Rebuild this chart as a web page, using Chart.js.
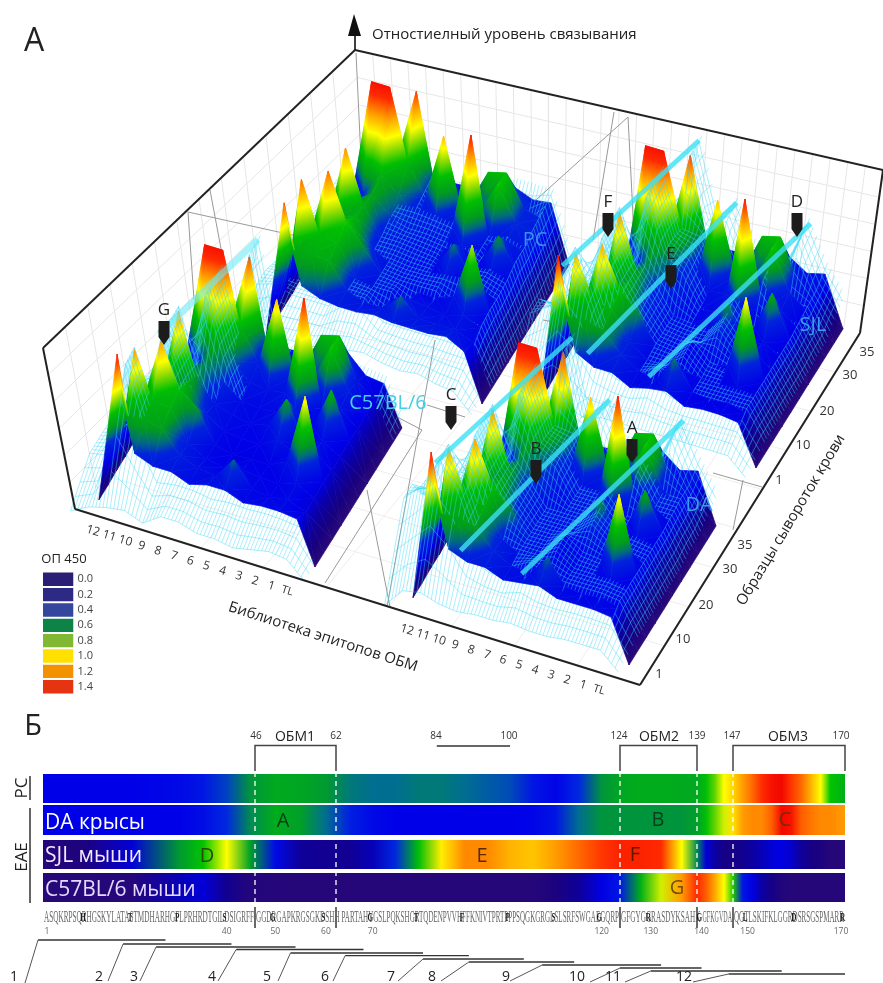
<!DOCTYPE html>
<html><head><meta charset="utf-8">
<style>html,body{margin:0;padding:0;background:#fff}#main{position:absolute;left:0;top:0}#leg{position:absolute;left:43px;top:561px}</style>
<script src="https://cdn.jsdelivr.net/npm/chart.js@4/dist/chart.umd.min.js"></script>
</head><body>
<canvas id="main" width="883" height="983"></canvas>
<canvas id="leg" width="54" height="144"></canvas>
<script>
// ---------- DATA: OD450; rows = serum slices (front to rear), columns = epitope rows 12..1,TL
const rowLabels=['12','11','10','9','8','7','6','5','4','3','2','1','TL'];
const serumLabels=['1','10','20','30','35'];
const surfaceC57=[
[.02,1.3,.5,.44,.44,.38,.42,.42,.36,.38,.38,.36,0],
[.02,.66,.68,.64,.46,.4,.38,.56,.36,.34,.36,.3,0],
[.03,1.1,.72,.7,.44,.36,.33,.36,.34,.33,.38,.3,0],
[.03,.54,1.1,.74,.62,.36,.32,.33,.33,.4,1,.32,0],
[.04,.42,.62,.68,.46,.36,.34,.34,.42,.35,.42,.3,0],
[.04,.38,1.12,.62,.42,.38,.35,.38,.65,.3,.38,.3,0],
[.04,.36,.54,.6,.5,.38,.36,.38,.44,.34,.7,.32,0],
[.04,.36,.46,.68,.56,.42,.4,.42,1.27,.38,.42,.3,0],
[.04,.36,1.33,1.33,.72,.46,1.05,.45,.46,.78,.45,.32,0],
[.03,.36,.5,.6,1.2,.46,.46,.4,.72,.76,.42,.3,0],
[.02,.33,.4,.4,.42,.38,.38,.36,.4,.5,.35,.33,0]];
const surfacePC=[
[.02,1.2,.54,.48,.46,.46,.48,.46,.46,.46,.48,.4,0],
[.02,.68,.7,.68,.48,.42,.42,.56,.42,.42,.42,.36,0],
[.03,1.16,.74,.72,.46,.4,.38,.42,.4,.38,.42,.36,0],
[.03,.56,1.16,.78,.6,.42,.36,.36,.36,.42,.9,.36,0],
[.04,.44,.66,.7,.48,.4,.36,.36,.42,.36,.42,.34,0],
[.04,.4,1.12,.68,.44,.4,.36,.36,.58,.34,.38,.34,0],
[.04,.38,.56,.66,.52,.4,.38,.38,.44,.36,.62,.38,0],
[.04,.38,.48,.7,.58,.44,.42,.44,1.27,.4,.46,.42,0],
[.04,.38,1.33,1.33,.74,.48,1.05,.46,.5,.78,.5,.46,0],
[.03,.38,.5,.62,1.22,.48,.48,.42,.72,.76,.5,.46,0],
[.02,.34,.4,.4,.42,.4,.4,.38,.42,.52,.46,.48,0]];
const surfaceSJL=[
[.02,1.3,.52,.44,.44,.36,.4,.42,.34,.36,.36,.34,0],
[.02,.66,.68,.64,.48,.38,.36,.58,.34,.32,.34,.3,0],
[.03,1.08,.72,.7,.46,.36,.32,.36,.34,.33,.36,.3,0],
[.03,.54,1.08,.74,.6,.36,.32,.33,.33,.38,1,.32,0],
[.04,.42,.64,.68,.46,.36,.34,.34,.42,.35,.42,.3,0],
[.04,.38,1.12,.64,.42,.38,.35,.38,.62,.3,.38,.3,0],
[.04,.36,.54,.6,.52,.38,.36,.38,.46,.34,.68,.32,0],
[.04,.36,.46,.68,.56,.42,.4,.42,1.27,.38,.42,.3,0],
[.04,.36,1.33,1.33,.72,.46,1.05,.45,.46,.78,.45,.34,0],
[.03,.36,.5,.6,1.22,.46,.46,.4,.72,.76,.42,.38,0],
[.02,.33,.4,.4,.42,.38,.38,.36,.42,.48,.38,.42,0]];
const surfaceDA=[
[.02,1.3,.52,.46,.46,.4,.42,.44,.38,.38,.38,.36,0],
[.02,.66,.68,.64,.48,.4,.38,.56,.36,.34,.36,.32,0],
[.03,1.1,.72,.7,.46,.38,.34,.36,.34,.34,.36,.32,0],
[.03,.54,1.1,.74,.6,.38,.34,.34,.34,.38,1,.34,0],
[.04,.42,.64,.68,.46,.38,.34,.34,.42,.36,.42,.32,0],
[.04,.4,1.12,.64,.42,.38,.36,.38,.62,.32,.38,.32,0],
[.04,.36,.54,.6,.52,.38,.38,.38,.46,.34,.68,.34,0],
[.04,.36,.46,.68,.56,.42,.4,.42,1.27,.38,.42,.32,0],
[.04,.36,1.33,1.33,.72,.46,1.05,.45,.46,.78,.45,.36,0],
[.03,.36,.5,.6,1.22,.46,.46,.4,.72,.76,.42,.38,0],
[.02,.33,.4,.4,.42,.38,.38,.36,.42,.5,.38,.42,0]];
const meshC57=[
[.02,.1,.14,.16,.1,.2,.2,.15,.15,.12,.15,.18,.16,.02],
[.25,.28,1.1,.62,.3,.3,.3,.28,.3,.3,.3,.28,.26,.02],
[.25,.3,1.12,.7,.3,.3,.3,.28,.28,.28,.28,.28,.26,.02],
[.25,.3,.3,1.14,.75,.3,.3,.28,.28,.28,.28,.28,.26,.02],
[.2,.25,.3,1.15,.75,.3,.3,.28,.28,.28,.28,.28,.26,.02],
[.2,.25,.3,1.16,.72,.35,.3,.28,.28,.28,.28,.28,.26,.02],
[.15,.2,.25,.3,1.18,.7,.3,.28,.28,.28,.28,.28,.26,.02],
[.15,.2,.25,.3,1.19,.7,.3,.28,.28,.28,.28,.28,.26,.02],
[.12,.2,.2,.3,1.2,.7,.3,.3,.28,.28,.28,.28,.26,.02],
[.1,.15,.2,.25,.3,1.22,.6,.3,.3,.28,.28,.28,.26,.02],
[.1,.12,.15,.2,.25,1.23,.45,.36,.35,.36,.4,.38,.36,.05]];
const meshPC=[
[.05,.16,.2,.22,.22,.24,.28,.3,.26,.24,.26,.22,.2,.05],
[.3,.35,.3,.3,.3,.46,.46,.3,.3,.3,.3,.3,.3,.03],
[.3,.3,.3,.3,.3,.46,.44,.44,.3,.3,.3,.42,.38,.03],
[.25,.3,.3,.3,.3,.3,.44,.42,.42,.42,.3,.42,.4,.03],
[.2,.25,.3,.3,.3,.44,.44,.42,.42,.44,.46,.46,.4,.03],
[.2,.25,.3,.3,.3,.46,.46,.44,.42,.3,.44,.46,.42,.03],
[.15,.2,.25,.3,.3,.5,.46,.46,.44,.44,.46,.3,.46,.03],
[.15,.2,.25,.3,.3,.5,.52,.5,.48,.3,.46,.5,.46,.03],
[.12,.2,.2,.3,.3,.5,.55,.3,.52,.3,.3,.3,.5,.05],
[.1,.15,.2,.25,.3,.3,.58,.3,.48,.3,.3,.3,.52,.05],
[.1,.12,.15,.2,.25,.3,.3,.4,.4,.46,.56,.56,.56,.1]];
const meshDA=[
[.05,.22,.25,.2,.18,.2,.2,.22,.2,.2,.22,.22,.22,.08],
[.7,.85,1.12,.9,.52,.42,.4,.48,.42,.4,.4,.4,.38,.12],
[.7,.7,1.13,.95,.54,.42,.42,.42,.5,.4,.4,.4,.38,.12],
[.5,.5,.6,1.14,.8,.58,.42,.42,.52,.42,.4,.4,.38,.12],
[.4,.4,.45,1.15,.8,.6,.42,.42,.42,.54,.42,.4,.38,.12],
[.3,.3,.4,1.16,.8,.62,.42,.42,.42,.56,.42,.4,.38,.12],
[.25,.25,.35,.4,1.18,.75,.65,.42,.42,.6,.42,.4,.38,.12],
[.2,.2,.3,.4,1.19,.75,.68,.42,.42,.42,.64,.4,.4,.15],
[.15,.2,.3,.4,1.2,.72,.7,.42,.42,.42,.68,.42,.42,.15],
[.1,.15,.25,.35,.4,1.22,.72,.75,.42,.42,.42,.75,.42,.2],
[.1,.12,.2,.3,.35,1.23,.6,.8,.5,.5,.5,.81,.5,.25]];
const meshSJL=[
[.05,.2,.22,.2,.16,.2,.2,.2,.2,.2,.2,.2,.2,.06],
[.6,.7,1.12,.9,.5,.38,.36,.46,.36,.34,.34,.34,.34,.1],
[.6,.6,1.13,.95,.52,.38,.36,.36,.48,.34,.34,.34,.34,.1],
[.45,.45,.6,1.14,.8,.56,.38,.36,.5,.36,.34,.34,.34,.1],
[.35,.4,.45,1.15,.8,.58,.38,.36,.36,.52,.36,.34,.34,.1],
[.3,.3,.4,1.16,.8,.6,.38,.36,.36,.54,.36,.34,.34,.1],
[.25,.25,.35,.4,1.18,.75,.62,.38,.36,.58,.36,.34,.34,.1],
[.2,.2,.3,.4,1.19,.75,.66,.38,.36,.36,.62,.36,.36,.12],
[.15,.2,.3,.4,1.2,.72,.7,.38,.36,.36,.66,.38,.38,.12],
[.1,.15,.25,.35,.4,1.22,.72,.75,.38,.36,.38,.75,.4,.2],
[.1,.12,.2,.3,.35,1.23,.6,.8,.5,.48,.48,.81,.48,.25]];
const meshSlices=[-.12,.1,.2,.3,.4,.5,.6,.7,.8,.9,1.03];
const surfaceSlices=[0,.1,.2,.3,.4,.5,.6,.7,.8,.9,1];
// mesh crest lines: from [row, slice, OD] to [row, slice, OD]
const crestA=[[1,.05,1.15],[4,1,1.23]], crestB=[[2.4,.05,.47],[6.1,1,.8]], crestC=[[5.8,.05,.43],[10.2,1,.81]];
const crestAUpper=[[1.9,.3,1.16],[4,1,1.23]];
// lower panel: OD along the protein, per residue
const stripResidues=[1,10,20,30,35,40,45,50,55,60,65,70,75,80,85,90,95,100,105,110,115,120,124,128,132,136,139,141,143,145,147,149,151,153,155,157,159,161,163,165,167,170];
const stripPC=[.33,.33,.33,.35,.38,.45,.57,.63,.62,.58,.52,.5,.5,.52,.52,.5,.48,.46,.38,.34,.42,.57,.62,.64,.64,.63,.63,.7,.8,.95,1.02,1.12,1.2,1.3,1.36,1.38,1.28,1.2,1.08,.95,.72,.65];
const stripDA=[.33,.33,.33,.33,.36,.42,.55,.64,.6,.5,.4,.35,.33,.33,.33,.33,.33,.33,.34,.38,.5,.57,.57,.57,.57,.57,.6,.7,.8,.9,1,1.12,1.15,1.15,1.22,1.38,1.35,1.22,1.18,1.15,1.15,1.12];
const stripSJL=[.03,.08,.3,.58,.72,.95,.6,.35,.18,.15,.16,.25,.42,.7,.98,1.15,1.15,1.08,1.05,1.12,1.2,1.28,1.32,1.32,1.3,.95,.55,.3,.2,.12,.12,.15,.2,.25,.3,.32,.28,.18,.12,.08,.03,.02];
const stripC57=[.02,.02,.03,.25,.3,.15,.04,.03,.03,.03,.03,.03,.03,.03,.03,.03,.03,.03,.03,.08,.18,.32,.38,.65,.9,1.12,1.3,1.22,1.1,.95,.75,.38,.32,.2,.12,.05,.03,.03,.03,.03,.03,.03];
const epitopeRanges=[[0,27],[18,41],[25,54],[42,68],[53,81],[64,91],[81,103],[91,114],[107,132],[124,140],[130,157],[146,170]];
const mbpSequence='ASQKRPSQRHGSKYLATASTMDHARHGFLPRHRDTGILDSIGRFFGGDRGAPKRGSGKDSHHPARTAHYGSLPQKSHGRTQDENPVVHFFKNIVTPRTPPPSQGKGRGLSLSRFSWGAEGQRPGFGYGGRASDYKSAHKGFKGVDAQGTLSKIFKLGGRDSRSGSPMARR';
const legendLabels=['0.0','0.2','0.4','0.6','0.8','1.0','1.2','1.4'];
const legendColors=['#2a1f75','#2d2a85','#34479c','#0d8348','#80b832','#ffe000','#f39200','#e63312'];
const residueTicks=[1,40,50,60,70,120,130,140,150,170];

// ---------- helpers
const stripStops=[[0,'#2a0a78'],[.1,'#18007f'],[.22,'#0a00a8'],[.33,'#0000e8'],[.42,'#0028e0'],[.5,'#006e90'],[.58,'#009a30'],[.72,'#00c400'],[.85,'#a0e000'],[.95,'#ffff00'],[1.12,'#ff9c00'],[1.3,'#ff2a00'],[1.4,'#f00000']];
const surfStops=[[0,'#2a0a78'],[.1,'#18007f'],[.22,'#0a00a8'],[.33,'#0000e8'],[.5,'#0024dc'],[.56,'#006a80'],[.63,'#009a20'],[.76,'#00c000'],[.88,'#a0e000'],[.96,'#ffff00'],[1.1,'#ff9c00'],[1.24,'#ff2a00'],[1.4,'#f00000']];
const rgb=h=>[1,3,5].map(p=>parseInt(h.substr(p,2),16));
function ramp(od,stops){od=Math.max(0,Math.min(1.4,od));for(let n=1;n<stops.length;n++){if(od<=stops[n][0]){const a=stops[n-1],b=stops[n],t=(od-a[0])/(b[0]-a[0]),A=rgb(a[1]),B=rgb(b[1]);return 'rgb('+A.map((v,m)=>Math.round(v+(B[m]-v)*t)).join(',')+')';}}return stops[stops.length-1][1];}
const cv=document.getElementById('main'),ctx=cv.getContext('2d');
const HEIGHT=118, FULL=1.4;
const anchors=[[1,43],[46,255],[62,336],[124,620],[139,697],[147,733],[170,845]];
function X(r){for(let n=1;n<anchors.length;n++){if(r<=anchors[n][0]||n===anchors.length-1){const a=anchors[n-1],b=anchors[n];return a[1]+(b[1]-a[1])*(r-a[0])/(b[0]-a[0]);}}}
const marks=[];
function line(pts,color,w,extra){marks.push(Object.assign({data:pts.map(p=>({x:p[0],y:p[1]})),borderColor:color,borderWidth:w,fill:false,pointRadius:0,tension:0},extra||{}));}
function poly(pts,color,bw){marks.push({data:pts.concat([pts[0]]).map(p=>({x:p[0],y:p[1]})),borderColor:color,backgroundColor:color,borderWidth:bw===undefined?.7:bw,fill:'shape',pointRadius:0,tension:0,borderJoinStyle:'round'});}
function mix(a,b,t){return [a[0]+(b[0]-a[0])*t,a[1]+(b[1]-a[1])*t];}

// frame
const wTL=[43,348],wTB=[355,50],wTR=[883,170],fL=[75,509],fF=[640,685],fR=[860,333],fB=[368,215];
const wallC='#e6e6e6',floorC='#f1ecec';
for(let n=1;n<9;n++){line([mix(fL,fF,n/9),mix(fB,fR,n/9)],floorC,1);line([mix(fL,fB,n/9),mix(fF,fR,n/9)],floorC,1);}
for(let n=1;n<14;n++)line([mix(wTL,wTB,n/14),mix(fL,fB,n/14)],wallC,1);
for(let n=1;n<30;n++)line([mix(wTB,wTR,n/30),mix(fB,fR,n/30)],wallC,1);
for(let n=1;n<6;n++){line([mix(wTL,fL,n/6),mix(wTB,fB,n/6)],wallC,1);line([mix(wTB,fB,n/6),mix(wTR,fR,n/6)],wallC,1);}
const innerLines=[[[356,53],[362,180]],[[188,212],[360,250]],[[188,212],[194,300]],[[210,190],[225,270]],[[628,117],[517,217]],[[628,117],[634,235]],[[614,112],[593,240]],[[543,320],[707,350]],[[713,473],[762,487]],[[427,405],[465,417]],[[435,340],[387,607]],[[422,430],[325,583]],[[367,490],[390,607]],[[743,480],[733,530]],[[355,395],[422,430]]];
innerLines.forEach(l=>line(l,'#999',1));

// surfaces
const plates=[
{L:[266,339],F:[482,404],R:[569,265],s:surfacePC,m:meshPC,crests:[],cw:5,cc:'rgba(60,225,245,.8)'},
{L:[540,403],F:[756,468],R:[843,329],s:surfaceSJL,m:meshSJL,crests:[crestA,crestB,crestC],cw:5,cc:'rgba(60,225,245,.8)'},
{L:[99,502],F:[315,567],R:[402,428],s:surfaceC57,m:meshC57,crests:[crestAUpper],cw:7,cc:'rgba(110,235,245,.6)'},
{L:[413,600],F:[629,665],R:[716,526],s:surfaceDA,m:meshDA,crests:[crestA,crestB,crestC],cw:5,cc:'rgba(60,225,245,.8)'}];
function proj(p,i,v,z){return [p.L[0]+(p.F[0]-p.L[0])*i/12+(p.R[0]-p.F[0])*v,p.L[1]+(p.F[1]-p.L[1])*i/12+(p.R[1]-p.F[1])*v-z*HEIGHT,z];}
function tri(a,b,c){
  const d1x=b[0]-a[0],d1y=b[1]-a[1],d1z=b[2]-a[2],d2x=c[0]-a[0],d2y=c[1]-a[1],d2z=c[2]-a[2];
  const det=d1x*d2y-d2x*d1y;const pts=[a,b,c].map(q=>[q[0],q[1]]);
  if(Math.abs(det)<.01){return;}
  const ga=(d1z*d2y-d2z*d1y)/det,gb=(d1x*d2z-d2x*d1z)/det,m2=ga*ga+gb*gb;
  if(m2<1e-9){poly(pts,ramp((a[2]+b[2]+c[2])/3,surfStops));return;}
  const sx=a[0]-ga*a[2]/m2,sy=a[1]-gb*a[2]/m2;
  const g=ctx.createLinearGradient(sx,sy,sx+ga*FULL/m2,sy+gb*FULL/m2);
  surfStops.forEach(s=>g.addColorStop(s[0]/FULL,s[1]));
  poly(pts,g);
}
function solidCell(p,i,k){
  const Z=(a,b)=>p.s[b][a],V=surfaceSlices;
  const A=proj(p,i,V[k],Z(i,k)),B=proj(p,i+1,V[k],Z(i+1,k)),C=proj(p,i+1,V[k+1],Z(i+1,k+1)),D=proj(p,i,V[k+1],Z(i,k+1));
  if(A[2]+C[2]<=B[2]+D[2]){tri(A,B,C);tri(A,C,D);}else{tri(A,B,D);tri(B,C,D);}
}
function meshCell(p,i,k){
  const j=i+1,m=p.m,V=meshSlices;
  const A=proj(p,i,V[k],m[k][j]),B=proj(p,i+1,V[k],m[k][j+1]),C=proj(p,i+1,V[k+1],m[k+1][j+1]),D=proj(p,i,V[k+1],m[k+1][j]);
  const pts=[];const NV=4,NI=5;
  const bil=(u,w)=>{const a=mix(A,B,u),b=mix(D,C,u),q=mix(a,b,w);return {x:q[0],y:q[1]};};
  for(let n=0;n<NV;n++){pts.push(bil(0,n/NV),bil(1,n/NV),{x:NaN,y:NaN});}
  for(let n=0;n<NI;n++){pts.push(bil(n/NI,0),bil(n/NI,1),{x:NaN,y:NaN});}
  marks.push({data:pts,borderColor:'rgba(60,215,245,.62)',borderWidth:.7,fill:false,pointRadius:0,tension:0,spanGaps:false});
}
plates.forEach(p=>{
  for(let k=9;k>=0;k--){
    for(let i=-1;i<12;i++){
      const j=i+1;
      const mAvg=(p.m[k][j]+p.m[k][j+1]+p.m[k+1][j]+p.m[k+1][j+1])/4;
      if(i<0){meshCell(p,i,k);continue;}
      const sAvg=(p.s[k][i]+p.s[k][i+1]+p.s[k+1][i]+p.s[k+1][i+1])/4;
      if(mAvg<sAvg){meshCell(p,i,k);solidCell(p,i,k);}else{solidCell(p,i,k);meshCell(p,i,k);}
    }
  }
  p.crests.forEach(c=>line(c.map(q=>{const r=proj(p,q[0],q[1],q[2]);return [r[0],r[1]];}),p.cc,p.cw));
});

// outer frame
[[wTL,wTB],[wTB,wTR],[wTL,fL],[fL,fF],[fF,fR],[fR,wTR]].forEach(l=>line(l,'#222',2));
line([[355,50],[355,30]],'#111',1.6);
poly([[348,36],[354,14],[361,36]],'#111',0);

// markers as points with a pin glyph
const pin=document.createElement('canvas');pin.width=12;pin.height=24;
{const c=pin.getContext('2d');c.fillStyle='#1c1c1c';c.beginPath();c.moveTo(.5,0);c.lineTo(11.5,0);c.lineTo(11.5,16);c.lineTo(6,24);c.lineTo(.5,16);c.closePath();c.fill();}
const markerLabels=['A','B','C','D','E','F','G'];
const markerX=[632,536,451,797,671,608,164],markerY=[451,472,418,225,277,225,333];
marks.push({data:markerX.map((x,n)=>({x,y:markerY[n]})),showLine:false,pointStyle:pin,pointRadius:6,fill:false});

// lower panel
const strips=[[stripPC,788.5,29],[stripDA,820,30],[stripSJL,854.5,29],[stripC57,887.5,29]];
strips.forEach(s=>{
  const x0=X(1),x1=X(170),g=ctx.createLinearGradient(x0,0,x1,0);
  stripResidues.forEach((r,n)=>g.addColorStop((X(r)-x0)/(x1-x0),ramp(s[0][n],stripStops)));
  line([[x0,s[1]],[x1,s[1]]],g,s[2]);
});
const domainBounds=[46,62,124,139,147];
domainBounds.forEach((r,n)=>{
  line([[X(r),772],[X(r),905]],'rgba(255,255,255,.92)',1.4,{borderDash:[5,4]});
  line([[X(r),907],[X(r),928]],'#555',1);
});
const LB=[[46,62],[124,139],[147,170]];
LB.forEach(b=>line([[X(b[0]),771],[X(b[0]),745.5],[X(b[1]),745.5],[X(b[1]),771]],'#444',1.5));
line([[X(84),746],[X(100),746]],'#333',1.3);
line([[30,776],[30,800]],'#333',1.5);line([[30,808],[30,903]],'#333',1.5);
const epY=[940,944,947,949.5,953,955.6,959,962,965,968,971,974];
const leaderEnd=[[25,983],[108,981],[140,981],[218,981],[278,981],[333,981],[398,981],[441,981],[510,981],[590,982],[625,982],[693,982]];
epitopeRanges.forEach((e,n)=>{
  const a=e[0]<1?38:X(e[0]),b=X(e[1]);
  line([[a,epY[n]],[b,epY[n]]],'#333',1.3);
  line([[a,epY[n]],leaderEnd[n]],'#555',1);
});

// texts
const S='"Open Sans","Noto Sans",sans-serif';
const texts=[];
function T(t,x,y,size,color,rot,align,family,weight){texts.push({t,x,y,size,color:color||'#222',rot:rot||0,align:align||'center',family:family||S,weight:weight||'normal'});}
T('А',34,42,32);T('Б',33,727,29);
T('Отностиелный уровень связывания',372,35,15,'#222',0,'left');
const a15=.3;
rowLabels.forEach((l,n)=>{T(l,93+16.2*n,531+5*n,n===12?11:12,'#333',a15);T(l,407+16*n,630+5*n,n===12?11:12,'#333',a15);});
T('Библиотека эпитопов ОБМ',323,637,15,'#222',.312);
const serA=[[659,674],[683,639],[706,605],[730,569],[745,545]],serB=[[779,480],[803,445],[827,411],[850,375],[867,352]];
serumLabels.forEach((l,n)=>{T(l,serA[n][0],serA[n][1],13,'#333');T(l,serB[n][0],serB[n][1],13,'#333');});
T('Образцы сывороток крови',791,520,15,'#222',-1.03);
T('PC',535,240,20,'#3b8ff0');T('SJL',813,325,20,'#3b9bf0');T('DA',699,505,20,'#3b9bf0');T('C57BL/6',388,403,20,'#45cfe6');
markerLabels.forEach((l,n)=>T(l,markerX[n],markerY[n]-23,17,'#222'));
T('ОП 450',64,559,13,'#222');
[['46',256],['62',336],['84',436],['100',509],['124',619],['139',697],['147',732],['170',841]].forEach(a=>T(a[0],a[1],736,10,'#333'));
[['ОБМ1',295],['ОБМ2',659],['ОБМ3',788]].forEach(a=>T(a[0],a[1],737,14,'#222'));
T('PC',22,788,17,'#222',-Math.PI/2);T('EAE',22,857,17,'#222',-Math.PI/2);
T('DA крысы',45,823,21,'#fff',0,'left');T('SJL мыши',45,856,21,'#f3e8ff',0,'left');T('C57BL/6 мыши',45,890,21,'#e6d8ff',0,'left');
[['A',283,821,'#0c3d18'],['B',658,820,'#0c3d18'],['C',785,820,'#7a2a00'],['D',207,856,'#2a4a00'],['E',482,856,'#5a2a00'],['F',635,855,'#5a1800'],['G',677,888,'#7a4a00']].forEach(a=>T(a[0],a[1],a[2],20,a[3]));
residueTicks.forEach(r=>T(String(r),X(r)+(r===1?4:r===170?-4:0),932,8.5,'#666'));
['1','2','3','4','5','6','7','8','9','10','11','12'].forEach((l,n)=>T(l,[14,99,134,212,267,325,391,432,506,577,613,684][n],977,14,'#222'));

const seqBreaks=[[1,45],[46,62],[63,123],[124,139],[140,146],[147,170]];
const textPlugin={id:'labels',afterDraw(chart){
  const c=chart.ctx;c.save();
  seqBreaks.forEach(b=>{
    const s=mbpSequence.slice(b[0]-1,b[1]),x0=X(b[0])+1,x1=X(Math.min(b[1]+1,170))-1;
    c.save();c.font='14px "Liberation Serif"';c.textAlign='left';c.textBaseline='alphabetic';c.fillStyle='#666';
    const w=c.measureText(s).width;c.translate(x0,922);c.scale((x1-x0)/w,1.15);c.fillText(s,0,0);c.restore();
  });
  c.font='bold 12px "Liberation Serif"';c.textAlign='center';c.textBaseline='alphabetic';c.fillStyle='#222';
  for(let r=10;r<=170;r+=10){c.save();c.translate(X(r-.5),921);c.scale(.6,1.1);c.fillText(mbpSequence[r-1]||'',0,0);c.restore();}
  texts.forEach(o=>{c.save();c.translate(o.x,o.y);c.rotate(o.rot);c.font=o.weight+' '+o.size+'px '+o.family;c.fillStyle=o.color;c.textAlign=o.align;c.textBaseline='middle';c.fillText(o.t,0,0);c.restore();});
  c.restore();
}};

new Chart(cv,{type:'line',data:{datasets:marks.slice().reverse()},plugins:[textPlugin],options:{
  responsive:false,animation:false,events:[],clip:false,layout:{padding:0,autoPadding:false},
  scales:{x:{type:'linear',min:0,max:883,display:false},y:{type:'linear',min:0,max:983,reverse:true,display:false}},
  plugins:{legend:{display:false},tooltip:{enabled:false},filler:{drawTime:'beforeDatasetDraw',propagate:false}},
  datasets:{line:{clip:false}}
}});

new Chart(document.getElementById('leg'),{type:'bar',data:{labels:legendLabels,datasets:[{data:legendLabels.map(()=>1),backgroundColor:legendColors,barPercentage:.87,categoryPercentage:1}]},options:{
  indexAxis:'y',responsive:false,animation:false,events:[],layout:{padding:0,autoPadding:false},
  scales:{x:{display:false,min:0,max:1},y:{position:'right',grid:{display:false,drawTicks:false},border:{display:false},ticks:{autoSkip:false,color:'#444',font:{size:11,family:S},padding:4}}},
  plugins:{legend:{display:false},tooltip:{enabled:false}}
}});
</script></body></html>
